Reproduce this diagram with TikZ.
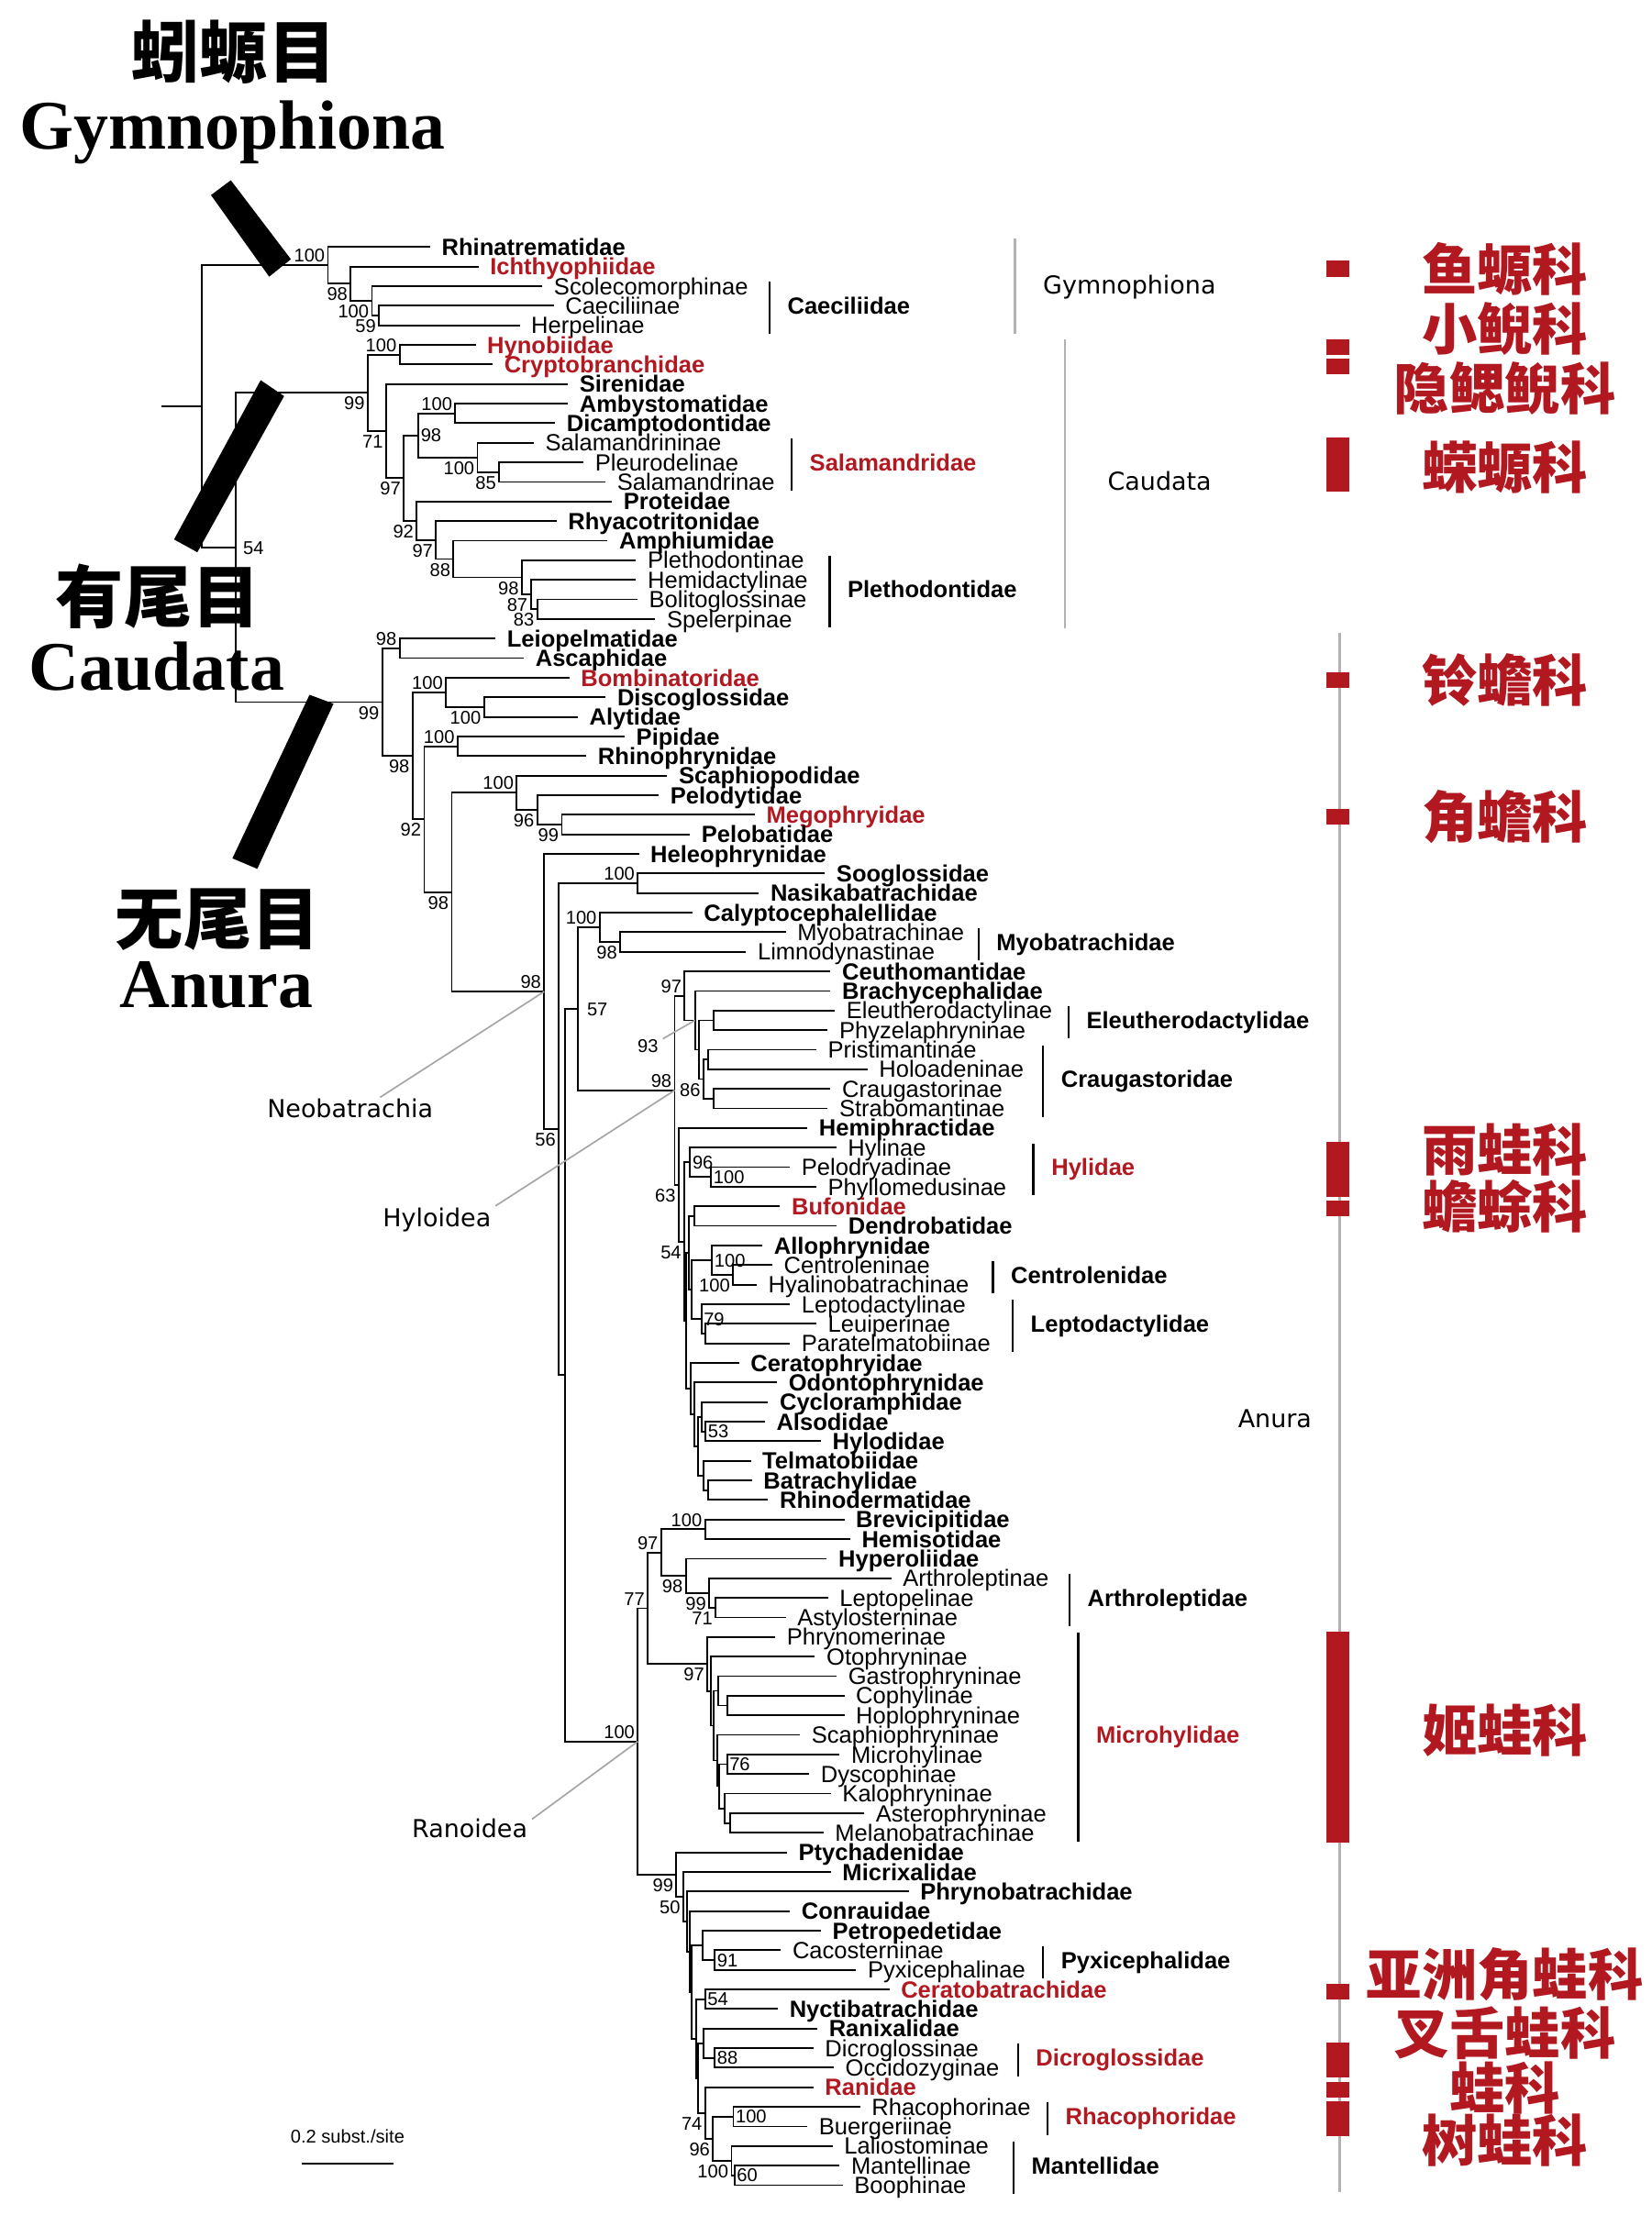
\documentclass[tikz,border=0pt]{standalone}
\usepackage{fontspec}
\setmainfont{Liberation Sans}
\newfontfamily\timesfont{Liberation Serif}
\newfontfamily\geofont{DejaVu Sans}
\newfontfamily\cjk{Noto Sans CJK SC}
\usetikzlibrary{calc,positioning}
\definecolor{famred}{RGB}{178,24,32}

\tikzset{
  branch/.style={line width=1.2pt},
  fam/.style={font=\bfseries\fontsize{16.5}{16.5}\selectfont, inner sep=0pt, text height=11.8pt, text depth=0pt},
  sub/.style={font=\fontsize{16.5}{16.5}\selectfont, inner sep=0pt, text height=11.8pt, text depth=0pt},
  hot/.style={text=famred},
  supp/.style={font=\fontsize{13}{13}\selectfont, inner sep=0pt, text height=9.3pt, text depth=0pt},
  lowleft/.style={anchor=north east, xshift=-2pt, yshift=-2.5pt},
  upleft/.style={anchor=south east, xshift=-2pt, yshift=2pt},
  atright/.style={anchor=west, xshift=1.5pt},
  famrule/.style={line width=1.6pt},
  cladebar/.style={line width=1.6pt, draw=black!30},
  pointer/.style={line width=1.1pt, draw=black!35},
  cladename/.style={font=\geofont\fontsize{17.4}{17.4}\selectfont, inner sep=0pt, text height=12.7pt, text depth=0pt},
  cnred/.style={font=\cjk\bfseries\fontsize{39}{39}\selectfont, text=famred, inner sep=0pt},
  cnbig/.style={font=\cjk\bfseries\fontsize{48}{48}\selectfont, inner sep=0pt},
  latbig/.style={font=\timesfont\bfseries\fontsize{49}{49}\selectfont, inner sep=0pt}
}

% leaf: style, name, row, tip x, label
\newcommand\leaf[5][fam]{%
  \coordinate (#2) at (#4,{174+13.79*#3});
  \node[#1,anchor=west] (#2-t) at ([xshift=8pt]#2) {#5};}
% clade: name, x, upper child, lower child
\newcommand\clade[4]{%
  \coordinate (#1-x) at (#2,0);
  \path ($(#3)!0.5!(#4)$) coordinate (#1-m);
  \coordinate (#1) at (#1-m -| #1-x);
  \draw[branch] (#3) -| (#1) |- (#4);}
\newcommand\cladel[6]{\clade{#1}{#2}{#3}{#4}\node[supp,#6] (#1-s) at (#1) {#5};}
% family bracket: style, name, first leaf, last leaf, bar x, text
\newcommand\famgroup[6][fam]{%
  \coordinate (#2-x) at (#5,0);
  \draw[famrule] ([yshift=3pt]#3 -| #2-x) -- ([yshift=-6pt]#4 -| #2-x);
  \path ($(#3)!0.5!(#4)$) coordinate (#2-m);
  \node[#1,anchor=west] (#2) at ([xshift=12.5pt]#2-m -| #2-x) {#6};}
\newcommand\redbar[2]{\fill[famred] ([yshift=4pt]#1 -| rbL) rectangle ([yshift=-7pt]#2 -| rbR);}

\begin{document}
\begin{tikzpicture}[x=1pt,y=-1pt]
\path[use as bounding box, fill=white] (0,0) rectangle (1163,1568);

% leaves
\leaf{Rhin}{0}{303}{Rhinatrematidae}
\leaf[fam,hot]{Ichth}{1}{337}{Ichthyophiidae}
\leaf[sub]{Scol}{2}{382}{Scolecomorphinae}
\leaf[sub]{Caec}{3}{390}{Caeciliinae}
\leaf[sub]{Herp}{4}{366}{Herpelinae}
\leaf[fam,hot]{Hyno}{5}{335}{Hynobiidae}
\leaf[fam,hot]{Cryp}{6}{347}{Cryptobranchidae}
\leaf{Sire}{7}{400}{Sirenidae}
\leaf{Amby}{8}{400}{Ambystomatidae}
\leaf{Dica}{9}{391}{Dicamptodontidae}
\leaf[sub]{Salan}{10}{376}{Salamandrininae}
\leaf[sub]{Pleu}{11}{411}{Pleurodelinae}
\leaf[sub]{Salam}{12}{426.5}{Salamandrinae}
\leaf{Prot}{13}{431}{Proteidae}
\leaf{Rhya}{14}{392}{Rhyacotritonidae}
\leaf{Amph}{15}{428}{Amphiumidae}
\leaf[sub]{Plet}{16}{448}{Plethodontinae}
\leaf[sub]{Hemid}{17}{448}{Hemidactylinae}
\leaf[sub]{Boli}{18}{449}{Bolitoglossinae}
\leaf[sub]{Spel}{19}{461.6}{Spelerpinae}
\leaf{Leio}{20}{349}{Leiopelmatidae}
\leaf{Asca}{21}{369}{Ascaphidae}
\leaf[fam,hot]{Bomb}{22}{401}{Bombinatoridae}
\leaf{Disc}{23}{426.6}{Discoglossidae}
\leaf{Alyt}{24}{407}{Alytidae}
\leaf{Pipi}{25}{440}{Pipidae}
\leaf{Rhph}{26}{413}{Rhinophrynidae}
\leaf{Scap}{27}{470}{Scaphiopodidae}
\leaf{Pelo}{28}{464}{Pelodytidae}
\leaf[fam,hot]{Mego}{29}{531.6}{Megophryidae}
\leaf{Pelb}{30}{486}{Pelobatidae}
\leaf{Hele}{31}{450}{Heleophrynidae}
\leaf{Soog}{32}{581}{Sooglossidae}
\leaf{Nasi}{33}{534.5}{Nasikabatrachidae}
\leaf{Caly}{34}{487.6}{Calyptocephalellidae}
\leaf[sub]{Myob}{35}{553.5}{Myobatrachinae}
\leaf[sub]{Limn}{36}{525.5}{Limnodynastinae}
\leaf{Ceut}{37}{585}{Ceuthomantidae}
\leaf{Brac}{38}{585}{Brachycephalidae}
\leaf[sub]{Eleu}{39}{588}{Eleutherodactylinae}
\leaf[sub]{Phyz}{40}{583}{Phyzelaphryninae}
\leaf[sub]{Pris}{41}{575}{Pristimantinae}
\leaf[sub]{Holo}{42}{611}{Holoadeninae}
\leaf[sub]{Crau}{43}{585}{Craugastorinae}
\leaf[sub]{Stra}{44}{583}{Strabomantinae}
\leaf{Hemi}{45}{568.7}{Hemiphractidae}
\leaf[sub]{Hyli}{46}{589}{Hylinae}
\leaf[sub]{Pldr}{47}{556.4}{Pelodryadinae}
\leaf[sub]{Phyl}{48}{575}{Phyllomedusinae}
\leaf[fam,hot]{Bufo}{49}{549.4}{Bufonidae}
\leaf{Dend}{50}{589.3}{Dendrobatidae}
\leaf{Allo}{51}{537}{Allophrynidae}
\leaf[sub]{Cent}{52}{544}{Centroleninae}
\leaf[sub]{Hyal}{53}{533}{Hyalinobatrachinae}
\leaf[sub]{Lepd}{54}{556.4}{Leptodactylinae}
\leaf[sub]{Leui}{55}{575}{Leuiperinae}
\leaf[sub]{Para}{56}{556.4}{Paratelmatobiinae}
\leaf{Cera}{57}{520.5}{Ceratophryidae}
\leaf{Odon}{58}{547.3}{Odontophrynidae}
\leaf{Cycl}{59}{541}{Cycloramphidae}
\leaf{Also}{60}{538.7}{Alsodidae}
\leaf{Hylo}{61}{578.2}{Hylodidae}
\leaf{Telm}{62}{528.8}{Telmatobiidae}
\leaf{Batr}{63}{529.6}{Batrachylidae}
\leaf{Rhde}{64}{541}{Rhinodermatidae}
\leaf{Brev}{65}{594.7}{Brevicipitidae}
\leaf{Hmso}{66}{598.8}{Hemisotidae}
\leaf{Hype}{67}{582.4}{Hyperoliidae}
\leaf[sub]{Arth}{68}{627.7}{Arthroleptinae}
\leaf[sub]{Lptp}{69}{583.2}{Leptopelinae}
\leaf[sub]{Asty}{70}{553.5}{Astylosterninae}
\leaf[sub]{Phmr}{71}{546}{Phrynomerinae}
\leaf[sub]{Otop}{72}{574}{Otophryninae}
\leaf[sub]{Gast}{73}{589.3}{Gastrophryninae}
\leaf[sub]{Coph}{74}{594.7}{Cophylinae}
\leaf[sub]{Hopl}{75}{594.7}{Hoplophryninae}
\leaf[sub]{Scph}{76}{563.4}{Scaphiophryninae}
\leaf[sub]{Micr}{77}{591.4}{Microhylinae}
\leaf[sub]{Dysc}{78}{570}{Dyscophinae}
\leaf[sub]{Kalo}{79}{585.2}{Kalophryninae}
\leaf[sub]{Aste}{80}{608.7}{Asterophryninae}
\leaf[sub]{Mela}{81}{580}{Melanobatrachinae}
\leaf{Ptyc}{82}{554.3}{Ptychadenidae}
\leaf{Mcrx}{83}{585.2}{Micrixalidae}
\leaf{Phrb}{84}{640}{Phrynobatrachidae}
\leaf{Conr}{85}{556.4}{Conrauidae}
\leaf{Petr}{86}{578.2}{Petropedetidae}
\leaf[sub]{Caco}{87}{550}{Cacosterninae}
\leaf[sub]{Pyxi}{88}{603}{Pyxicephalinae}
\leaf[fam,hot]{Cerb}{89}{626.4}{Ceratobatrachidae}
\leaf{Nyct}{90}{547.9}{Nyctibatrachidae}
\leaf{Ranx}{91}{575.7}{Ranixalidae}
\leaf[sub]{Dicr}{92}{572.9}{Dicroglossinae}
\leaf[sub]{Occi}{93}{587.3}{Occidozyginae}
\leaf[fam,hot]{Rani}{94}{572.9}{Ranidae}
\leaf[sub]{Rhac}{95}{605.8}{Rhacophorinae}
\leaf[sub]{Buer}{96}{568.7}{Buergeriinae}
\leaf[sub]{Lali}{97}{586.4}{Laliostominae}
\leaf[sub]{Mant}{98}{591.4}{Mantellinae}
\leaf[sub]{Boop}{99}{593.5}{Boophinae}

% Gymnophiona
\cladel{cHe}{267}{Caec}{Herp}{59}{lowleft}
\cladel{cCe}{262}{Scol}{cHe}{100}{lowleft}
\cladel{cIc}{247}{Ichth}{cCe}{98}{lowleft}
\cladel{cGy}{231}{Rhin}{cIc}{100}{upleft}
% Caudata
\cladel{cHC}{281.5}{Hyno}{Cryp}{100}{upleft}
\cladel{cAD}{320.7}{Amby}{Dica}{100}{upleft}
\cladel{c85}{351.6}{Pleu}{Salam}{85}{lowleft}
\cladel{cSal}{336.3}{Salan}{c85}{100}{lowleft}
\cladel{c98s}{294.7}{cAD}{cSal}{98}{atright}
\cladel{c83}{378.4}{Boli}{Spel}{83}{lowleft}
\cladel{c87}{373.8}{Hemid}{c83}{87}{lowleft}
\cladel{cPl}{367.6}{Plet}{c87}{98}{lowleft}
\cladel{c88}{319.4}{Amph}{cPl}{88}{lowleft}
\cladel{c97b}{307.1}{Rhya}{c88}{97}{lowleft}
\cladel{c92s}{293.5}{Prot}{c97b}{92}{lowleft}
\cladel{c97a}{284.4}{c98s}{c92s}{97}{lowleft}
\cladel{c71}{272}{Sire}{c97a}{71}{lowleft}
\cladel{cCa}{259}{cHC}{c71}{99}{lowleft}
% Anura, early branches
\cladel{cLA}{281.5}{Leio}{Asca}{98}{upleft}
\cladel{cDA}{340.9}{Disc}{Alyt}{100}{lowleft}
\cladel{cBo}{314.1}{Bomb}{cDA}{100}{upleft}
\cladel{cPi}{322.3}{Pipi}{Rhph}{100}{upleft}
\cladel{c99p}{395.7}{Mego}{Pelb}{99}{lowleft}
\cladel{c96p}{378.4}{Pelo}{c99p}{96}{lowleft}
\cladel{cPb}{364}{Scap}{c96p}{100}{upleft}
% Neobatrachia
\cladel{cSo}{449.2}{Soog}{Nasi}{100}{upleft}
\cladel{cMy}{436.9}{Myob}{Limn}{98}{lowleft}
\cladel{cAu}{422.4}{Caly}{cMy}{100}{upleft}
\clade{cEl}{502.8}{Eleu}{Phyz}
\clade{cPH}{498.6}{Pris}{Holo}
\clade{cCS}{502.5}{Crau}{Stra}
\cladel{cCr}{495.5}{cPH}{cCS}{86}{lowleft}
\clade{cEC}{492.2}{cEl}{cCr}
\clade{c93}{489.5}{Brac}{cEC}
\cladel{c97h}{482.2}{Ceut}{c93}{97}{upleft}
\cladel{cPP}{500.9}{Pldr}{Phyl}{100}{atright}
\cladel{cHy}{486.1}{Hyli}{cPP}{96}{atright}
\clade{cBD}{488.9}{Bufo}{Dend}
\cladel{cCn}{516.3}{Cent}{Hyal}{100}{lowleft}
\cladel{cAC}{501.5}{Allo}{cCn}{100}{atright}
\clade{cLP}{497}{Leui}{Para}
\cladel{cLe}{494}{Lepd}{cLP}{79}{atright}
\clade{cACL}{487.4}{cAC}{cLe}
\clade{cBDA}{485}{cBD}{cACL}
\cladel{cAH}{497}{Also}{Hylo}{53}{atright}
\clade{cCAH}{494.2}{Cycl}{cAH}
\clade{cBR}{499}{Batr}{Rhde}
\clade{cTBR}{495.3}{Telm}{cBR}
\clade{cCT}{491.5}{cCAH}{cTBR}
\clade{cOd}{489.3}{Odon}{cCT}
\clade{cCg}{486.5}{Cera}{cOd}
\clade{cQ}{483.5}{cBDA}{cCg}
\cladel{cR2}{482}{cHy}{cQ}{54}{lowleft}
\cladel{cR}{478.1}{Hemi}{cR2}{63}{lowleft}
\cladel{cHyl}{475.2}{c97h}{cR}{98}{upleft}
\cladel{c57}{406.8}{cAu}{cHyl}{57}{atright,xshift=5pt}
% Ranoidea
\cladel{cBH}{496.6}{Brev}{Hmso}{100}{upleft}
\cladel{c71a}{504}{Lptp}{Asty}{71}{lowleft}
\cladel{cAr}{499.5}{Arth}{c71a}{99}{lowleft}
\cladel{c98f}{483}{Hype}{cAr}{98}{lowleft}
\cladel{c97f}{465.7}{cBH}{c98f}{97}{upleft}
\clade{cCH}{512.1}{Coph}{Hopl}
\clade{cGC}{506.1}{Gast}{cCH}
\cladel{cMD}{512.1}{Micr}{Dysc}{76}{atright}
\clade{cAM}{514.1}{Aste}{Mela}
\clade{cKA}{510.4}{Kalo}{cAM}
\clade{cM4}{506.7}{cMD}{cKA}
\clade{cM3}{505}{Scph}{cM4}
\clade{cM2}{502.9}{cGC}{cM3}
\clade{cM1}{500.7}{Otop}{cM2}
\cladel{c97m}{498.2}{Phmr}{cM1}{97}{lowleft}
\cladel{c77}{456.2}{c97f}{c97m}{77}{upleft}
\cladel{cPy}{503.5}{Caco}{Pyxi}{91}{atright}
\clade{cPe}{494.9}{Petr}{cPy}
\cladel{cCN}{496.7}{Cerb}{Nyct}{54}{atright}
\cladel{cDi}{503.5}{Dicr}{Occi}{88}{atright}
\clade{cRD}{495.4}{Ranx}{cDi}
\cladel{cRh}{516.5}{Rhac}{Buer}{100}{atright}
\cladel{cMB}{517.3}{Mant}{Boop}{60}{atright}
\cladel{cMa}{515.2}{Lali}{cMB}{100}{lowleft}
\cladel{cRM}{502.2}{cRh}{cMa}{96}{lowleft}
\cladel{cRR}{496.7}{Rani}{cRM}{74}{lowleft}
\clade{cA}{491.5}{cRD}{cRR}
\clade{cB}{490.1}{cCN}{cA}
\clade{cC}{487.4}{cPe}{cB}
\clade{cD}{485.6}{Conr}{cC}
\clade{cE}{484.1}{Phrb}{cD}
\cladel{c50}{481.3}{Mcrx}{cE}{50}{lowleft}
\cladel{cNa}{476.4}{Ptyc}{c50}{99}{lowleft}
\cladel{cRa}{449.2}{c77}{cNa}{100}{upleft}
% backbone
\clade{cY}{397.7}{c57}{cRa}
\cladel{c56}{393.6}{cSo}{cY}{56}{lowleft}
\cladel{cNe}{383.3}{Hele}{c56}{98}{upleft}
\cladel{c98n}{318.2}{cPb}{cNe}{98}{lowleft}
\cladel{c92n}{298.8}{cPi}{c98n}{92}{lowleft}
\cladel{c98a}{290.6}{cBo}{c92n}{98}{lowleft}
\cladel{cAn}{269.2}{cLA}{c98a}{99}{lowleft}
\cladel{cCA}{166.1}{cCa}{cAn}{54}{atright,xshift=3.5pt}
\clade{root}{142.3}{cGy}{cCA}
\coordinate (stub) at (113.4,0);
\draw[branch] (root -| stub) -- (root);

% support label with pointer
\node[supp] (lab93) at (456.4,736.6) {93};
\draw[pointer] ($(lab93.north east)+(3,0)$) -- (c93);

% family brackets
\famgroup{gCaec}{Scol}{Herp}{542}{Caeciliidae}
\famgroup[fam,hot]{gSala}{Salan}{Salam}{557.6}{Salamandridae}
\famgroup{gPlet}{Plet}{Spel}{584.3}{Plethodontidae}
\famgroup{gMyob}{Myob}{Limn}{689.2}{Myobatrachidae}
\famgroup{gEleu}{Eleu}{Phyz}{752.6}{Eleutherodactylidae}
\famgroup{gCrau}{Pris}{Stra}{734.7}{Craugastoridae}
\famgroup[fam,hot]{gHyli}{Hyli}{Phyl}{727.9}{Hylidae}
\famgroup{gCent}{Cent}{Hyal}{699.4}{Centrolenidae}
\famgroup{gLept}{Lepd}{Para}{713.3}{Leptodactylidae}
\famgroup{gArth}{Arth}{Asty}{753.3}{Arthroleptidae}
\famgroup[fam,hot]{gMicr}{Phmr}{Mela}{759.4}{Microhylidae}
\famgroup{gPyxi}{Caco}{Pyxi}{734.7}{Pyxicephalidae}
\famgroup[fam,hot]{gDicr}{Dicr}{Occi}{717}{Dicroglossidae}
\famgroup[fam,hot]{gRhac}{Rhac}{Buer}{737.8}{Rhacophoridae}
\famgroup{gMant}{Lali}{Boop}{713.9}{Mantellidae}

% order brackets
\coordinate (gyx) at (715,0);
\coordinate (cax) at (750.2,0);
\coordinate (anx) at (943.7,0);
\draw[cladebar] ([yshift=6pt]Rhin -| gyx) -- ([yshift=-6pt]Herp -| gyx);
\draw[cladebar] ([yshift=3.7pt]Hyno -| cax) -- ([yshift=-6.4pt]Spel -| cax);
\draw[cladebar] ([yshift=4pt]Leio -| anx) -- ([yshift=-5pt]Boop -| anx);
\node[cladename,anchor=west] (ordGym) at (734.5,200.8) {Gymnophiona};
\node[cladename,anchor=west] (ordCau) at (780,339) {Caudata};
\node[cladename,anchor=east] (ordAnu) at (924,999) {Anura};

% clade names with pointers
\node[cladename,anchor=west] (lneo) at (188,781) {Neobatrachia};
\node[cladename,anchor=west] (lhyl) at (269.5,858) {Hyloidea};
\node[cladename,anchor=west] (lran) at (290,1288) {Ranoidea};
\draw[pointer] ($(lneo.north west)!0.68!(lneo.north east)+(0,-1.5)$) -- (cNe);
\draw[pointer] ($(lhyl.north east)+(3,-2)$) -- (cHyl);
\draw[pointer] ($(lran.north east)+(3,0)$) -- (cRa);

% red markers
\coordinate (rbL) at (934.4,0);
\coordinate (rbR) at (950.5,0);
\redbar{Ichth}{Ichth}
\redbar{Hyno}{Hyno}
\redbar{Cryp}{Cryp}
\redbar{Salan}{Salam}
\redbar{Bomb}{Bomb}
\redbar{Mego}{Mego}
\redbar{Hyli}{Phyl}
\redbar{Bufo}{Bufo}
\redbar{Phmr}{Mela}
\redbar{Cerb}{Cerb}
\redbar{Dicr}{Occi}
\redbar{Rani}{Rani}
\redbar{Rhac}{Buer}

\node[cnred] (cnIch) at (1060,189.4) {鱼螈科};
\node[cnred] (cnHyn) at (1060,231.8) {小鲵科};
\node[cnred] (cnCry) at (1060,273.8) {隐鳃鲵科};
\node[cnred] (cnSal) at (1060,329) {蝾螈科};
\node[cnred] (cnBom) at (1060,479.1) {铃蟾科};
\node[cnred] (cnMeg) at (1060,575.3) {角蟾科};
\node[cnred] (cnHyl) at (1060,810) {雨蛙科};
\node[cnred] (cnBuf) at (1060,849.5) {蟾蜍科};
\node[cnred] (cnMic) at (1060,1218.8) {姬蛙科};
\node[cnred] (cnCer) at (1060,1391) {亚洲角蛙科};
\node[cnred] (cnDic) at (1060,1432) {叉舌蛙科};
\node[cnred] (cnRan) at (1060,1470.5) {蛙科};
\node[cnred] (cnRha) at (1060,1507.6) {树蛙科};

% order titles and slashes
\node[cnbig] (tGymC) at (164.8,36.7) {蚓螈目};
\node[latbig,anchor=base] (tGymL) at (163.7,105) {Gymnophiona};
\node[cnbig] (tCauC) at (111.4,420.4) {有尾目};
\node[latbig,anchor=base] (tCauL) at (110.4,486) {Caudata};
\node[cnbig] (tAnuC) at (153.4,647.8) {无尾目};
\node[latbig,anchor=base] (tAnuL) at (152.4,710) {Anura};
\fill (148.6,137.4) -- (162.6,127) -- (204.9,182.6) -- (189.6,194.9) -- cycle;
\fill (183.6,267.8) -- (200.1,279) -- (139,389) -- (122.6,380) -- cycle;
\fill (218,489.4) -- (234.9,495.7) -- (181.2,612) -- (163.7,604.6) -- cycle;

% scale bar
\node[font=\fontsize{13}{13}\selectfont, inner sep=0pt] (scaletxt) at (244.8,1505) {0.2 subst./site};
\coordinate (sbL) at (212.3,1523.8);
\coordinate (sbR) at (277.4,1523.8);
\draw[line width=1.3pt] (sbL) -- (sbR);
\end{tikzpicture}
\end{document}
